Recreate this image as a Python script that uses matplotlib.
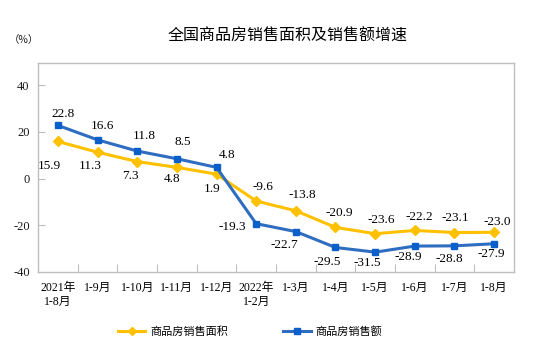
import matplotlib
matplotlib.use("Agg")
import matplotlib.pyplot as plt
from matplotlib.lines import Line2D

categories = ["2021年\n1-8月", "1-9月", "1-10月", "1-11月", "1-12月", "2022年\n1-2月",
              "1-3月", "1-4月", "1-5月", "1-6月", "1-7月", "1-8月"]
area_growth = [15.9, 11.3, 7.3, 4.8, 1.9, -9.6, -13.8, -20.9, -23.6, -22.2, -23.1, -23.0]
sales_growth = [22.8, 16.6, 11.8, 8.5, 4.8, -19.3, -22.7, -29.5, -31.5, -28.9, -28.8, -27.9]
series_names = ["商品房销售面积", "商品房销售额"]
title = "全国商品房销售面积及销售额增速"
yticks = [-40, -20, 0, 20, 40]

# label offsets in pixels (dx, dy)
sales_off = [(5, 11), (5, 14), (7, 15), (6, 17), (11, 12), (-24, -3), (-12, -13),
             (-8, -15), (-8, -11), (-7, -11), (-5, -13), (-3, -10)]
area_off = [(-8, -25), (-7, -14), (-7, -14), (-5, -12), (-4, -15), (7, 14), (6, 16),
            (4, 14), (6, 14), (4, 13), (1, 15), (3, 10)]

YELLOW = "#FFC000"
BLUE_LINE = "#2E6DC0"
BLUE_MK = "#0A5FCB"
GRAY = "#BFBFBF"
SERIF = ["Liberation Serif", "Noto Sans CJK SC"]
CJK = ["Noto Sans CJK SC", "DejaVu Sans"]

fig = plt.figure(figsize=(5.39, 3.43), dpi=100)
ax = fig.add_axes([38 / 539, 71 / 343, 476 / 539, 209 / 343])

x = list(range(len(categories)))
ax.plot(x, area_growth, color=YELLOW, lw=2.2, marker="D", ms=5.5, mfc=YELLOW, mec=YELLOW, zorder=3)
ax.plot(x, sales_growth, color=BLUE_LINE, lw=2.2, marker="s", ms=5, mfc=BLUE_MK, mec=BLUE_MK, zorder=4)

for xi, v, (dx, dy) in zip(x, sales_growth, sales_off):
    ax.annotate(f"{v:.1f}", (xi, v), xytext=(dx, dy), textcoords="offset pixels",
                ha="center", va="center", fontsize=9.5, family=SERIF, color="#000000")
for xi, v, (dx, dy) in zip(x, area_growth, area_off):
    ax.annotate(f"{v:.1f}", (xi, v), xytext=(dx, dy), textcoords="offset pixels",
                ha="center", va="center", fontsize=9.5, family=SERIF, color="#000000")

ax.set_xlim(-0.5, len(categories) - 0.5)
ax.set_ylim(-40, 49.5)
ax.set_yticks(yticks)
ax.set_yticklabels([str(t) for t in yticks], family=SERIF, fontsize=9)
ax.tick_params(axis="y", direction="in", length=5, color=GRAY, pad=6, labelcolor="#1a1a1a")

ax.set_xticks([i + 0.5 for i in x[:-1]])
ax.set_xticklabels([])
ax.tick_params(axis="x", which="major", direction="in", length=6, color=GRAY)
ax.set_xticks(x, minor=True)
ax.set_xticklabels(categories, minor=True, family=SERIF, fontsize=8.5, linespacing=1.25)
ax.tick_params(axis="x", which="minor", length=0, pad=7)

for s in ax.spines.values():
    s.set_color(GRAY)
    s.set_linewidth(1.0)

fig.text(288 / 539, 1 - 36 / 343, title, ha="center", va="center", fontsize=11.5,
         family=CJK, color="#000000")
fig.text(24 / 539, 1 - 40.5 / 343, "（%）", ha="center", va="center", fontsize=7.5,
         family=CJK, color="#1a1a1a")

handles = [Line2D([], [], color=YELLOW, lw=2.2, marker="D", ms=4, mfc=YELLOW, mec=YELLOW),
           Line2D([], [], color=BLUE_LINE, lw=2.2, marker="s", ms=4, mfc=BLUE_MK, mec=BLUE_MK)]
fig.legend(handles, series_names, loc="center", bbox_to_anchor=(250 / 539, 1 - 331.5 / 343),
           ncol=2, frameon=False, prop={"family": CJK, "size": 8},
           handlelength=2.5, handletextpad=0.4, columnspacing=5)

fig.savefig("out.png", dpi=100)
